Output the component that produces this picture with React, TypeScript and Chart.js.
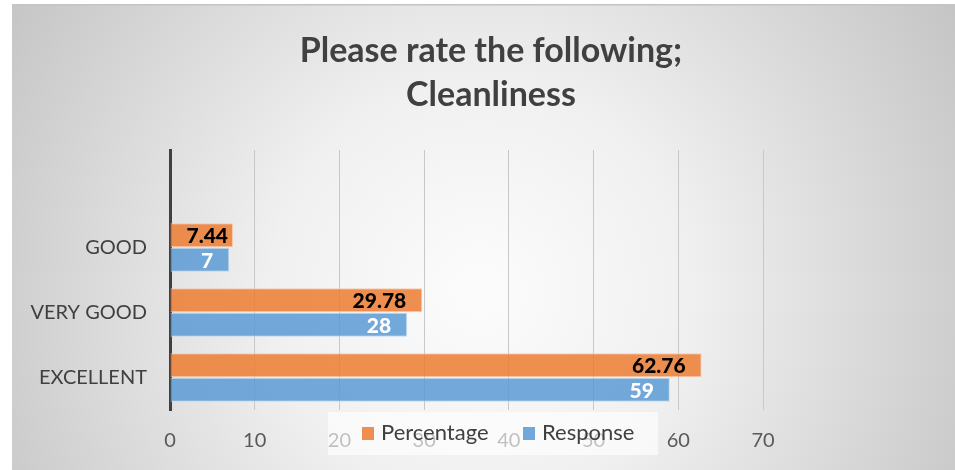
import React, { useEffect, useRef } from "react";
import { Chart, registerables } from "chart.js";

Chart.register(...registerables);

const categories = ["", "GOOD", "VERY GOOD", "EXCELLENT"];
const percentageValues = [null, 7.44, 29.78, 62.76];
const responseValues = [null, 7, 28, 59];
const titleLines = ["Please rate the following;", "Cleanliness"];
const seriesNames = ["Percentage", "Response"];
const xMin = 0;
const xMax = 70;
const xStep = 10;

const FONT = "Lato, 'Open Sans', sans-serif";
const ORANGE = "rgba(237,125,49,0.85)";
const BLUE = "rgba(91,155,213,0.85)";
const ORANGE_SOLID = "rgb(240,142,80)";
const BLUE_SOLID = "rgb(112,168,219)";

const backgroundPlugin = {
  id: "bgPlugin",
  beforeDraw(chart: any) {
    const { ctx, width, height } = chart;
    ctx.save();
    ctx.fillStyle = "#ffffff";
    ctx.fillRect(0, 0, width, height);
    const g = ctx.createRadialGradient(480, 290, 20, 480, 290, 560);
    g.addColorStop(0, "#fbfbfb");
    g.addColorStop(0.35, "#f0f0f0");
    g.addColorStop(1, "#c4c4c4");
    ctx.fillStyle = g;
    ctx.fillRect(12, 5, width - 12, height - 5);
    ctx.fillStyle = "#c4c4c4";
    ctx.fillRect(12, 4, width - 12, 1.5);
    // title
    ctx.fillStyle = "#404040";
    ctx.font = `bold 34px ${FONT}`;
    ctx.textAlign = "center";
    ctx.textBaseline = "middle";
    ctx.fillText(titleLines[0], 491, 51);
    ctx.fillText(titleLines[1], 491, 95);
    ctx.restore();
  },
};

const labelPlugin = {
  id: "labelPlugin",
  afterDatasetsDraw(chart: any) {
    const { ctx } = chart;
    ctx.save();
    ctx.font = `900 21px ${FONT}`;
    ctx.textAlign = "right";
    ctx.textBaseline = "middle";
    chart.data.datasets.forEach((ds: any, di: number) => {
      const meta = chart.getDatasetMeta(di);
      meta.data.forEach((bar: any, i: number) => {
        const v = ds.data[i];
        if (v === null || v === undefined) return;
        const text = String(v);
        const w = ctx.measureText(text).width;
        const len = bar.x - bar.base;
        const off = len >= w + 32 ? 16 : 5;
        ctx.fillStyle = di === 0 ? "#000000" : "#ffffff";
        ctx.fillText(text, bar.x - off, bar.y + 1);
      });
    });
    ctx.restore();
  },
};

const legendPlugin = {
  id: "legendPlugin",
  afterDraw(chart: any) {
    const { ctx } = chart;
    ctx.save();
    ctx.fillStyle = "rgba(255,255,255,0.62)";
    ctx.fillRect(328, 412, 330, 43);
    ctx.font = `22px ${FONT}`;
    ctx.textAlign = "left";
    ctx.textBaseline = "middle";
    const items = [
      { x: 362, color: ORANGE_SOLID, text: seriesNames[0] },
      { x: 523, color: BLUE_SOLID, text: seriesNames[1] },
    ];
    items.forEach((it) => {
      ctx.fillStyle = it.color;
      ctx.fillRect(it.x, 427, 12, 13);
      ctx.fillStyle = "#404040";
      ctx.fillText(it.text, it.x + 19, 433);
    });
    ctx.restore();
  },
};

export default function App() {
  const canvasRef = useRef<HTMLCanvasElement | null>(null);

  useEffect(() => {
    document.body.style.margin = "0";
    const canvas = canvasRef.current;
    if (!canvas) return;
    const chart = new Chart(canvas, {
      type: "bar",
      data: {
        labels: categories,
        datasets: [
          {
            label: seriesNames[0],
            data: percentageValues,
            backgroundColor: ORANGE,
            borderColor: "rgba(250,200,170,0.9)",
            borderWidth: 1,
            categoryPercentage: 0.76,
            barPercentage: 0.97,
          },
          {
            label: seriesNames[1],
            data: responseValues,
            backgroundColor: BLUE,
            borderColor: "rgba(190,215,240,0.9)",
            borderWidth: 1,
            categoryPercentage: 0.76,
            barPercentage: 0.97,
          },
        ],
      },
      options: {
        indexAxis: "y",
        responsive: false,
        animation: false,
        layout: { padding: { top: 150, left: 0, right: 192, bottom: 0 } },
        plugins: {
          legend: { display: false },
          title: { display: false },
          tooltip: { enabled: false },
        },
        scales: {
          x: {
            type: "linear",
            position: "bottom",
            min: xMin,
            max: xMax,
            ticks: {
              stepSize: xStep,
              color: "#595959",
              font: { family: FONT, size: 20 },
              padding: 19,
            },
            grid: { color: "#c8c8c8", lineWidth: 1, drawTicks: false },
            border: { display: false },
            afterFit: (scale: any) => {
              scale.height = 60;
            },
          },
          y: {
            position: "left",
            z: 1,
            ticks: {
              color: "#404040",
              font: { family: FONT, size: 20 },
              padding: 23,
            },
            grid: { color: "rgba(0,0,0,0)", drawTicks: false },
            border: { display: true, color: "#404040", width: 3 },
            afterFit: (scale: any) => {
              scale.width = 170;
            },
          },
        },
      },
      plugins: [backgroundPlugin, labelPlugin, legendPlugin],
    } as any);
    return () => chart.destroy();
  }, []);

  return (
    <div style={{ width: 955, height: 470 }}>
      <canvas ref={canvasRef} width={955} height={470} style={{ display: "block" }} />
    </div>
  );
}
